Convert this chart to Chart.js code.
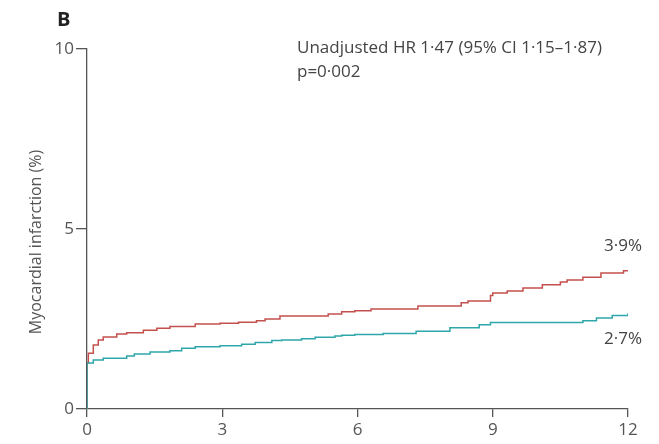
<!DOCTYPE html>
<html><head><meta charset="utf-8">
<script src="https://cdn.jsdelivr.net/npm/chart.js@4"></script>
<style>html,body{margin:0;padding:0;background:#fff;}#wrap{width:659px;height:444px;}</style>
</head><body><div id="wrap"><canvas id="c" width="659" height="444"></canvas></div>
<script>
const xTicks = [0, 3, 6, 9, 12];
const yTicks = [0, 5, 10];
const redTime = [0, 0, 0.03, 0.14, 0.25, 0.36, 0.66, 0.88, 1.25, 1.55, 1.84, 2.4, 2.95, 3.36, 3.76, 3.95, 4.28, 5.35, 5.65, 5.94, 6.3, 7.34, 8.3, 8.45, 8.95, 9.0, 9.32, 9.67, 10.1, 10.5, 10.65, 11.0, 11.4, 11.9, 12];
const redValue = [0, 1.28, 1.55, 1.78, 1.92, 2.0, 2.08, 2.12, 2.19, 2.24, 2.29, 2.36, 2.38, 2.41, 2.45, 2.5, 2.58, 2.64, 2.7, 2.73, 2.78, 2.86, 2.95, 3.0, 3.15, 3.22, 3.28, 3.36, 3.45, 3.53, 3.58, 3.66, 3.78, 3.84, 3.86];
const tealTime = [0, 0, 0.14, 0.36, 0.88, 1.05, 1.4, 1.84, 2.1, 2.4, 2.95, 3.43, 3.73, 4.1, 4.32, 4.76, 5.06, 5.5, 5.65, 5.94, 6.57, 7.3, 8.05, 8.7, 8.95, 11.0, 11.3, 11.65, 12];
const tealValue = [0, 1.28, 1.36, 1.41, 1.47, 1.53, 1.58, 1.62, 1.69, 1.73, 1.76, 1.8, 1.85, 1.9, 1.92, 1.95, 1.99, 2.03, 2.05, 2.07, 2.1, 2.16, 2.26, 2.34, 2.4, 2.45, 2.53, 2.6, 2.66];
const endLabels = ['3·9%', '2·7%'];
const annotation = ['Unadjusted HR 1·47 (95% CI 1·15–1·87)', 'p=0·002'];
const panelLetter = 'B';
const yTitle = 'Myocardial infarction (%)';

const FONT = '"Open Sans", "DejaVu Sans", sans-serif';
const RED = '#c4504e';
const TEAL = '#2fa7aa';
const AXIS = '#555555';

const toPts = (xs, ys) => xs.map((x, i) => ({x: x, y: ys[i]}));

const textPlugin = {
  id: 'texts',
  afterDraw(chart) {
    const ctx = chart.ctx;
    const xs = chart.scales.x, ys = chart.scales.y;
    ctx.save();
    ctx.fillStyle = '#222';
    ctx.font = 'bold 20px ' + FONT;
    ctx.textBaseline = 'middle';
    ctx.textAlign = 'left';
    ctx.fillText(panelLetter, 57, 20);
    ctx.fillStyle = '#444';
    ctx.font = '17px ' + FONT;
    ctx.fillText(annotation[0], 297, 48);
    ctx.fillText(annotation[1], 297, 72);
    ctx.textAlign = 'right';
    const xr = xs.getPixelForValue(12) + 14;
    ctx.fillText(endLabels[0], xr, ys.getPixelForValue(redValue[redValue.length-1]) - 24);
    ctx.fillText(endLabels[1], xr, ys.getPixelForValue(tealValue[tealValue.length-1]) + 26);
    // y-axis title
    ctx.save();
    ctx.translate(36, 242);
    ctx.rotate(-Math.PI / 2);
    ctx.textAlign = 'center';
    ctx.fillStyle = '#555';
    ctx.font = '16px ' + FONT;
    ctx.fillText(yTitle, 0, 0);
    ctx.restore();
    ctx.restore();
  }
};

new Chart(document.getElementById('c'), {
  type: 'line',
  data: {
    datasets: [
      {data: toPts(tealTime, tealValue), borderColor: TEAL, borderWidth: 1.5, pointRadius: 0, stepped: true, fill: false},
      {data: toPts(redTime, redValue), borderColor: RED, borderWidth: 1.5, pointRadius: 0, stepped: true, fill: false}
    ]
  },
  options: {
    responsive: false,
    animation: false,
    layout: {padding: {top: 49, right: 31, left: 0, bottom: 0}},
    plugins: {legend: {display: false}, tooltip: {enabled: false}},
    scales: {
      x: {
        type: 'linear', min: 0, max: 12,
        afterBuildTicks(s) { s.ticks = xTicks.map(v => ({value: v})); },
        afterFit(s) { s.height = 35; },
        grid: {display: true, drawOnChartArea: false, drawTicks: true, tickLength: 8, color: AXIS, lineWidth: 1.3},
        border: {display: true, color: AXIS, width: 1.3},
        ticks: {color: '#555', font: {family: FONT, size: 17}, padding: 3, maxRotation: 0}
      },
      y: {
        type: 'linear', min: 0, max: 10,
        afterBuildTicks(s) { s.ticks = yTicks.map(v => ({value: v})); },
        afterFit(s) { s.width = 87; },
        grid: {display: true, drawOnChartArea: false, drawTicks: true, tickLength: 11, color: AXIS, lineWidth: 1.3},
        border: {display: true, color: AXIS, width: 1.3},
        ticks: {color: '#555', font: {family: FONT, size: 17}, padding: 2},
        title: {display: false}
      }
    }
  },
  plugins: [textPlugin]
});
</script>
</body></html>
